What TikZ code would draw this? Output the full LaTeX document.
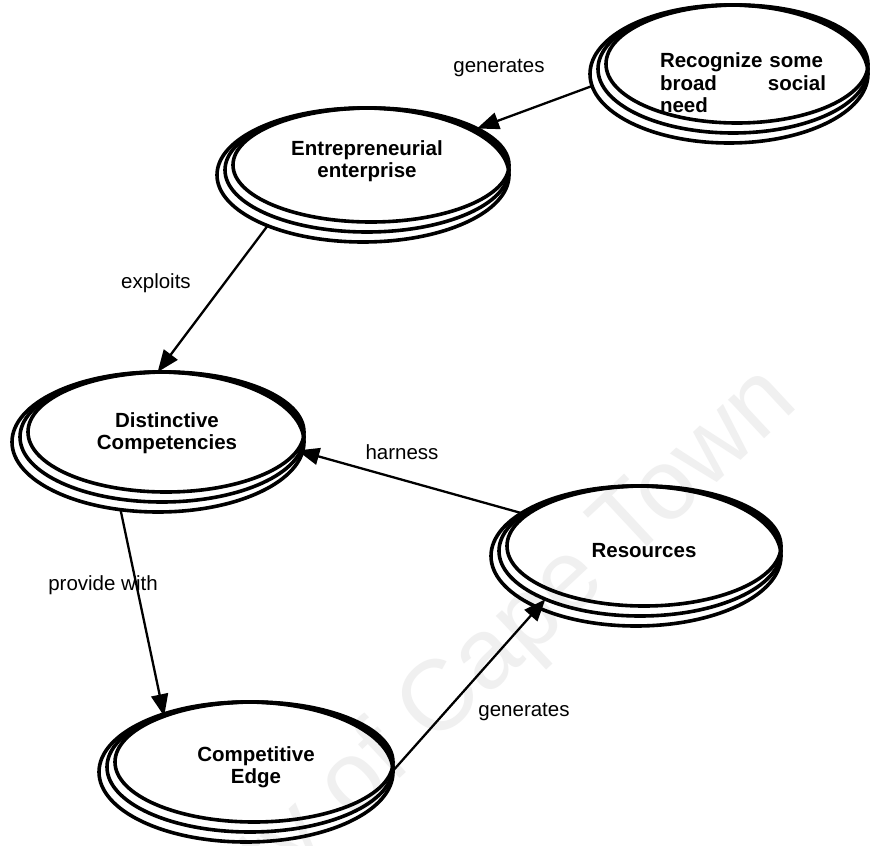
\documentclass[tikz,border=0pt]{standalone}
\usepackage{fontspec}
\setmainfont{Liberation Sans}
\usetikzlibrary{arrows.meta,shapes.geometric}
\tikzset{
  ellcopy/.style={ellipse, draw=black, line width=3.6pt, inner sep=0pt, outer sep=0pt},
  nodetext/.style={font=\bfseries\fontsize{20.5}{22.5}\selectfont, align=center, inner sep=0pt},
  edgelabel/.style={font=\fontsize{20.5}{22.5}\selectfont, inner sep=0pt},
  conn/.style={line width=2.3pt, -{Triangle[length=22pt,width=17pt]}},
  wmark/.style={font=\fontsize{100}{100}\selectfont, text=black!6, rotate=43, inner sep=0pt}
}
\newcommand{\tripell}[5]{%
  \node[ellcopy, minimum width={2*(#4+8)}, minimum height={2*(#5+10)}] (#1-3) at (#2-8,#3+10) {};
  \node[ellcopy, minimum width={2*(#4+4)}, minimum height={2*(#5+5)}] (#1-2) at (#2-4,#3+5) {};
  \node[ellcopy, minimum width={2*#4}, minimum height={2*#5}] (#1) at (#2,#3) {};
}
\begin{document}
\begin{tikzpicture}[x=1pt,y=-1pt]
  \fill[white] (0,0) rectangle (876,846);
  \useasboundingbox (0,0) rectangle (876,846);
  \begin{scope}
    \clip (0,0) rectangle (876,846);
    \node[wmark, anchor=base east] (wm) at (800,405) {University of Cape Town};
  \end{scope}

  \tripell{rec}{737}{64}{131}{59}
  \tripell{ent}{371}{165}{138}{57}
  \tripell{dist}{166}{432}{138}{60}
  \tripell{res}{644}{546}{137}{60}
  \tripell{comp}{254}{762}{139}{60}

  \node[nodetext, text width=166pt, align=left] (rect) at (743,83) {Recognize some\\broad\hfill social\\need};
  \node[nodetext] (entt) at (367,161) {Entrepreneurial\\enterprise};
  \node[nodetext] (distt) at (167,433) {Distinctive\\Competencies};
  \node[nodetext] (rest) at (644,551) {Resources};
  \node[nodetext] (compt) at (256,767) {Competitive\\Edge};

  \draw[conn] (rec-3.185) -- (ent.19);
  \draw[conn] (ent-3.208) -- (dist.98);
  \draw[conn] (res.165) -- (dist.352);
  \draw[conn] (dist-3.241) -- (comp.153);
  \draw[conn] (comp.355) -- (res-2.207);

  \node[edgelabel] (l1) at (499,68) {generates};
  \node[edgelabel] (l2) at (156,283) {exploits};
  \node[edgelabel] (l3) at (402,452) {harness};
  \node[edgelabel] (l4) at (103,585) {provide with};
  \node[edgelabel] (l5) at (524,712) {generates};
\end{tikzpicture}
\end{document}
